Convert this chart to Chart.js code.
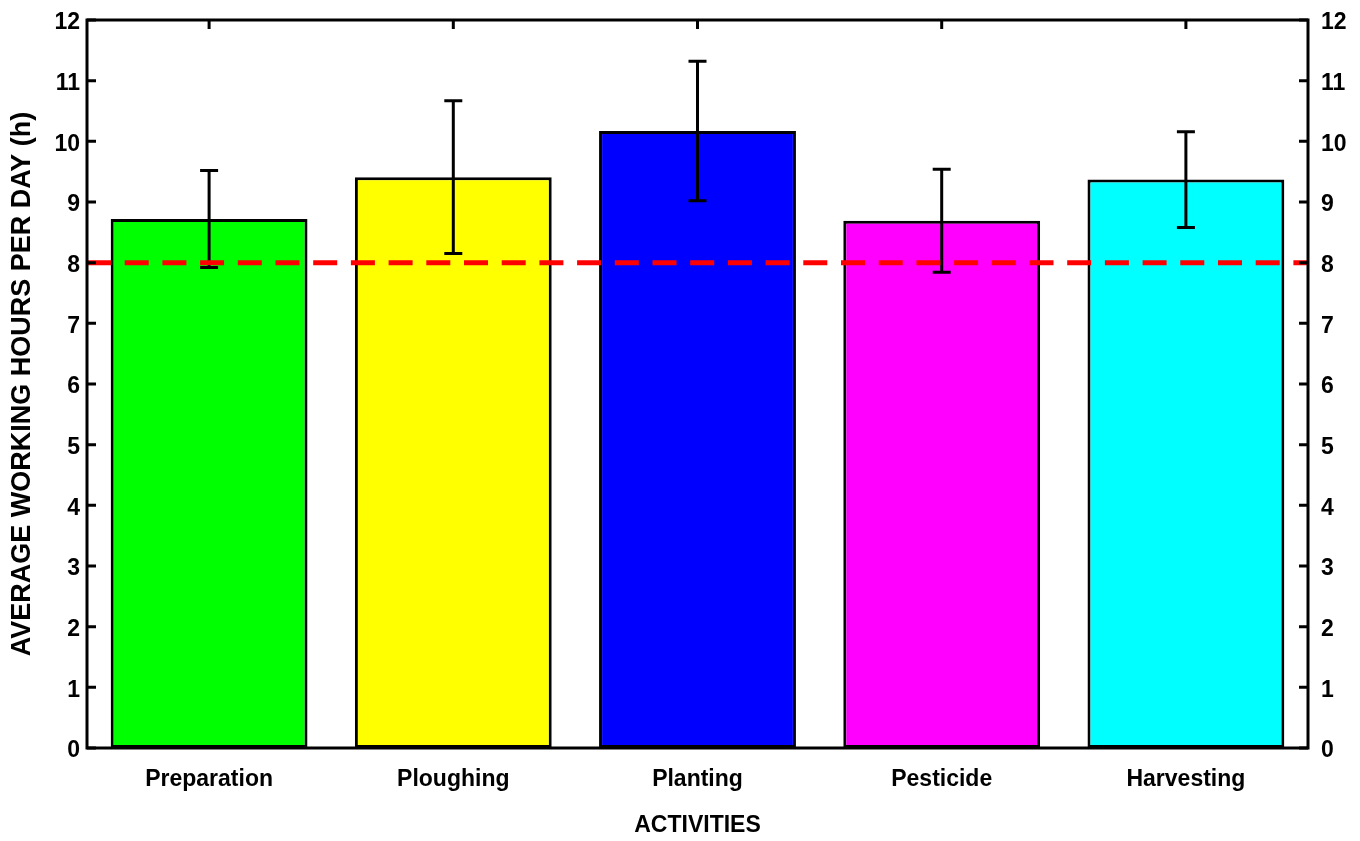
<!DOCTYPE html>
<html>
<head>
<meta charset="utf-8">
<script src="https://cdn.jsdelivr.net/npm/chart.js@4.4.1/dist/chart.umd.min.js"></script>
<style>
html,body{margin:0;padding:0;background:#ffffff;}
#wrap{width:1360px;height:841px;}
</style>
</head>
<body>
<div id="wrap"><canvas id="c" width="1360" height="841"></canvas></div>
<script>
// ---- data ----
const categories = ['Preparation', 'Ploughing', 'Planting', 'Pesticide', 'Harvesting'];
const meanHours = [8.72, 9.41, 10.17, 8.69, 9.37];
const errorHours = [0.80, 1.26, 1.15, 0.85, 0.79];
const barColors = ['#00ff00', '#ffff00', '#0000ff', '#ff00ff', '#00ffff'];
const yTickValues = [0, 1, 2, 3, 4, 5, 6, 7, 8, 9, 10, 11, 12];
const referenceHours = 8;
const yAxisTitle = 'AVERAGE WORKING HOURS PER DAY (h)';
const xAxisTitle = 'ACTIVITIES';

const FONT = "'Liberation Sans', Arial, Helvetica, sans-serif";

const decorPlugin = {
  id: 'decor',
  afterDatasetsDraw(chart) {
    const ctx = chart.ctx;
    const area = chart.chartArea;
    const y = chart.scales.y;
    const x = chart.scales.x;
    const meta = chart.getDatasetMeta(0);
    ctx.save();
    // error bars
    ctx.strokeStyle = '#000000';
    ctx.lineWidth = 3;
    ctx.lineCap = 'butt';
    meta.data.forEach((bar, i) => {
      const cx = bar.x;
      const yTop = y.getPixelForValue(meanHours[i] + errorHours[i]);
      const yBot = y.getPixelForValue(meanHours[i] - errorHours[i]);
      ctx.beginPath();
      ctx.moveTo(cx, yTop); ctx.lineTo(cx, yBot);
      ctx.moveTo(cx - 9, yTop); ctx.lineTo(cx + 9, yTop);
      ctx.moveTo(cx - 9, yBot); ctx.lineTo(cx + 9, yBot);
      ctx.stroke();
    });
    // reference line
    const yr = y.getPixelForValue(referenceHours);
    ctx.strokeStyle = '#ff0000';
    ctx.lineWidth = 5;
    ctx.setLineDash([24, 13.7]);
    ctx.lineDashOffset = 0;
    ctx.beginPath();
    ctx.moveTo(area.left, yr);
    ctx.lineTo(area.right, yr);
    ctx.stroke();
    ctx.setLineDash([]);
    // frame
    ctx.strokeStyle = '#000000';
    ctx.lineWidth = 3;
    ctx.strokeRect(area.left, area.top, area.right - area.left, area.bottom - area.top);
    // inner tick marks on y axes
    ctx.beginPath();
    yTickValues.forEach(v => {
      const py = y.getPixelForValue(v);
      ctx.moveTo(area.left, py); ctx.lineTo(area.left + 9, py);
      ctx.moveTo(area.right, py); ctx.lineTo(area.right - 9, py);
    });
    // inner tick marks on top edge at category centres
    categories.forEach((c, i) => {
      const px = x.getPixelForTick(i);
      ctx.moveTo(px, area.top); ctx.lineTo(px, area.top + 9);
    });
    ctx.stroke();
    ctx.restore();
  }
};

const tickFont = { family: FONT, size: 23, weight: 'bold' };

function zeroPad(scale) {
  scale.paddingTop = 0; scale.paddingBottom = 0;
  scale.paddingLeft = 0; scale.paddingRight = 0;
}

new Chart(document.getElementById('c'), {
  type: 'bar',
  data: {
    labels: categories,
    datasets: [{
      data: meanHours,
      backgroundColor: barColors,
      borderColor: '#000000',
      borderWidth: 3,
      borderSkipped: false,
      categoryPercentage: 1.0,
      barPercentage: 0.806
    }]
  },
  options: {
    responsive: false,
    animation: false,
    devicePixelRatio: 1,
    layout: { padding: { top: 20, left: 0, right: 0, bottom: 0 } },
    plugins: {
      legend: { display: false },
      tooltip: { enabled: false },
      title: { display: false }
    },
    scales: {
      x: {
        type: 'category',
        grid: { display: false, drawTicks: false },
        border: { display: false },
        ticks: { color: '#000000', font: tickFont, padding: 18, maxRotation: 0 },
        title: {
          display: true, text: xAxisTitle, color: '#000000',
          font: { family: FONT, size: 23, weight: 'bold' },
          padding: { top: 0, bottom: 2 }
        },
        afterFit(scale) { scale.height = 93; zeroPad(scale); }
      },
      y: {
        position: 'left',
        min: 0, max: 12,
        grid: { display: false, drawTicks: false },
        border: { display: false },
        afterBuildTicks(scale) { scale.ticks = yTickValues.map(v => ({ value: v })); },
        ticks: { color: '#000000', font: tickFont, padding: 7, labelOffset: 3 },
        title: {
          display: true, text: yAxisTitle, color: '#000000',
          font: { family: FONT, size: 27, weight: 'bold' },
          padding: { top: 6, bottom: 0 }
        },
        afterFit(scale) { scale.width = 87; zeroPad(scale); }
      },
      y2: {
        position: 'right',
        min: 0, max: 12,
        display: true,
        grid: { display: false, drawTicks: false },
        border: { display: false },
        afterBuildTicks(scale) { scale.ticks = yTickValues.map(v => ({ value: v })); },
        ticks: { color: '#000000', font: tickFont, padding: 13, labelOffset: 3 },
        afterFit(scale) { scale.width = 52; zeroPad(scale); }
      }
    }
  },
  plugins: [decorPlugin]
});
</script>
</body>
</html>
